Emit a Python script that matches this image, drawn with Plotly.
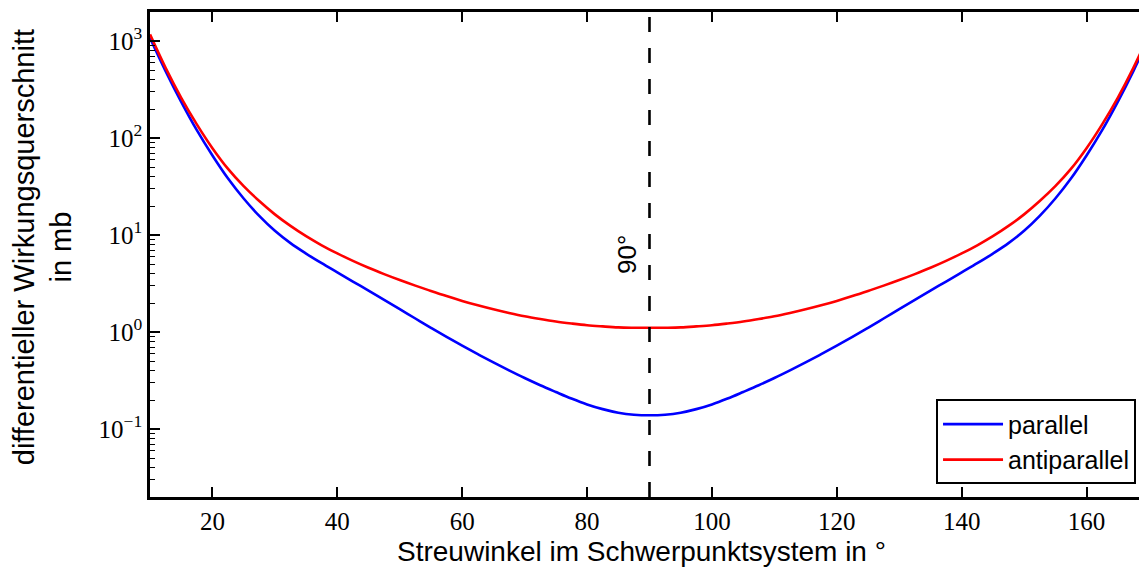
import plotly.graph_objects as go

# Streuwinkel (Schwerpunktsystem) in Grad
winkel = [10, 12.5, 15, 17.5, 20, 22.5, 25, 27.5, 30, 32.5, 35, 37.5, 40, 42.5,
          45, 47.5, 50, 52.5, 55, 57.5, 60, 62.5, 65, 67.5, 70, 72.5, 75, 77.5,
          80, 82.5, 85, 87.5, 90, 92.5, 95, 97.5, 100, 102.5, 105, 107.5, 110,
          112.5, 115, 117.5, 120, 122.5, 125, 127.5, 130, 132.5, 135, 137.5, 140,
          142.5, 145, 147.5, 150, 152.5, 155, 157.5, 160, 162.5, 165, 167.5, 170]

# differentieller Wirkungsquerschnitt in mb, Spins parallel
parallel = [1084, 492, 237, 121, 66.4, 38.4, 23.9, 15.8, 11.09, 8.28, 6.46, 5.14,
            4.14, 3.33, 2.69, 2.158, 1.73, 1.384, 1.109, 0.895, 0.728, 0.594,
            0.488, 0.404, 0.337, 0.284, 0.242, 0.207, 0.180, 0.161, 0.148, 0.141,
            0.139,
            0.141, 0.148, 0.161, 0.180, 0.207, 0.242, 0.284, 0.337, 0.404, 0.488,
            0.594, 0.728, 0.895, 1.109, 1.384, 1.73, 2.158, 2.69, 3.33, 4.14,
            5.14, 6.46, 8.28, 11.09, 15.8, 23.9, 38.4, 66.4, 121, 237, 492, 1084]

# differentieller Wirkungsquerschnitt in mb, Spins antiparallel
antiparallel = [1175, 531, 261, 139, 78.9, 48.2, 32.0, 22.5, 16.4, 12.47, 9.77,
                7.87, 6.49, 5.43, 4.61, 3.97, 3.45, 3.02, 2.66, 2.355, 2.10, 1.892,
                1.72, 1.579, 1.46, 1.368, 1.29, 1.230, 1.18, 1.147, 1.12, 1.112,
                1.11,
                1.112, 1.12, 1.147, 1.18, 1.230, 1.29, 1.368, 1.46, 1.579, 1.72,
                1.892, 2.10, 2.355, 2.66, 3.02, 3.45, 3.97, 4.61, 5.43, 6.49, 7.87,
                9.77, 12.47, 16.4, 22.5, 32.0, 48.2, 78.9, 139, 261, 531, 1175]

x_ticks = [20, 40, 60, 80, 100, 120, 140, 160]
y_ticks = [0.1, 1, 10, 100, 1000]
y_ticktext = ["10<sup>\u22121</sup>", "10<sup>0</sup>", "10<sup>1</sup>",
              "10<sup>2</sup>", "10<sup>3</sup>"]
y_minor = [m * 10 ** e for e in range(-2, 4) for m in range(2, 10)]

SANS = "Liberation Sans, Arial, sans-serif"
SERIF = "Liberation Serif, Times New Roman, serif"

fig = go.Figure()
fig.add_trace(go.Scatter(x=winkel, y=parallel, mode="lines", name="parallel",
                         line=dict(color="#0000ff", width=2.6, shape="spline", smoothing=1.0)))
fig.add_trace(go.Scatter(x=winkel, y=antiparallel, mode="lines", name="antiparallel",
                         line=dict(color="#ff0000", width=2.6, shape="spline", smoothing=1.0)))

# gestrichelte Markierung bei 90°
fig.add_shape(type="line", xref="x", yref="paper", x0=90, x1=90, y0=0, y1=1,
              line=dict(color="black", width=2.6, dash="15px,16px"))
fig.add_annotation(x=86.4, y=0.797, xref="x", yref="y", text="90°", showarrow=False,
                   textangle=-90, font=dict(family=SANS, size=26, color="black"))

# Achsentitel
fig.add_annotation(xref="paper", yref="paper", x=0.4965, y=-0.113,
                   text="Streuwinkel im Schwerpunktsystem in °", showarrow=False,
                   xanchor="center", yanchor="middle",
                   font=dict(family=SANS, size=28, color="black"))
fig.add_annotation(xref="paper", yref="paper", x=-0.1087, y=0.516,
                   text="differentieller Wirkungsquerschnitt<br>in mb", showarrow=False,
                   textangle=-90, xanchor="center", yanchor="middle",
                   font=dict(family=SANS, size=29, color="black"))

fig.update_layout(
    width=1139, height=570,
    margin=dict(l=150, r=0, t=12, b=73),
    paper_bgcolor="white", plot_bgcolor="white",
    showlegend=True,
    legend=dict(x=0.997, y=0.026, xanchor="right", yanchor="bottom",
                bgcolor="white", bordercolor="black", borderwidth=2,
                font=dict(family=SANS, size=25, color="black"),
                tracegroupgap=0, itemwidth=60),
    xaxis=dict(range=[10, 168.4], tickvals=x_ticks, ticks="inside", ticklen=10,
               tickwidth=1.5, tickcolor="black", showline=True, linewidth=2.6,
               linecolor="black", mirror="ticks", showgrid=False, zeroline=False,
               tickfont=dict(family=SERIF, size=25, color="black")),
    yaxis=dict(type="log", range=[-1.699, 3.301], tickvals=y_ticks, ticktext=y_ticktext,
               ticks="inside", ticklen=10, tickwidth=1.5, tickcolor="black",
               showline=True, linewidth=2.6, linecolor="black", mirror=False,
               showgrid=False, zeroline=False,
               minor=dict(tickvals=y_minor, ticks="inside", ticklen=5, tickwidth=1.2,
                          tickcolor="black", showgrid=False),
               tickfont=dict(family=SERIF, size=25, color="black")),
)

fig.write_html("out.html")
